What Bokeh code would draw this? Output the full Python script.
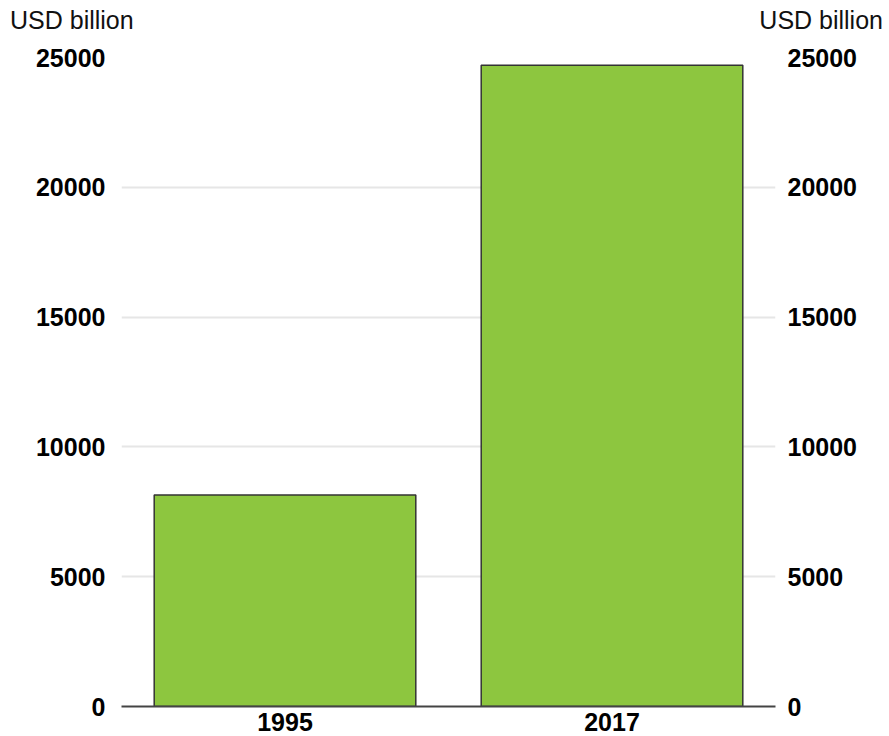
from bokeh.plotting import figure
from bokeh.models import ColumnDataSource, LinearAxis, FixedTicker, Range1d, Div, Spacer
from bokeh.layouts import column, row
from bokeh.embed import file_html
from bokeh.resources import INLINE

years = ["1995", "2017"]
values = [8150, 24700]
y_ticks = [0, 5000, 10000, 15000, 20000, 25000]
unit_label = "USD billion"

FONT = "Liberation Sans"
HEADER_H = 40

source = ColumnDataSource(data=dict(year=years, value=values))

p = figure(x_range=years, y_range=Range1d(0, 25000), width=889, height=736 - HEADER_H,
           output_backend="svg", toolbar_location=None,
           min_border_left=121, min_border_right=114, min_border_top=57 - HEADER_H,
           min_border_bottom=30)
p.outline_line_color = None
p.x_range.range_padding = 0

p.vbar(x="year", top="value", width=0.8, source=source,
       fill_color="#8dc63f", line_color="#333333", line_width=1.5)

def style_y(ax, standoff):
    ax.ticker = FixedTicker(ticks=y_ticks)
    ax.axis_line_color = None
    ax.major_tick_line_color = None
    ax.minor_tick_line_color = None
    ax.major_tick_out = 0
    ax.major_tick_in = 0
    ax.major_label_text_font = FONT
    ax.major_label_text_font_style = "bold"
    ax.major_label_text_font_size = "25px"
    ax.major_label_text_color = "#000000"
    ax.major_label_standoff = standoff

style_y(p.yaxis[0], 16)
ra = LinearAxis()
style_y(ra, 12)
p.add_layout(ra, "right")

# x axis
p.xaxis.axis_line_color = "#444444"
p.xaxis.axis_line_width = 2
p.xaxis.major_tick_line_color = None
p.xaxis.minor_tick_line_color = None
p.xaxis.major_tick_out = 0
p.xaxis.major_tick_in = 0
p.xaxis.major_label_text_font = FONT
p.xaxis.major_label_text_font_style = "bold"
p.xaxis.major_label_text_font_size = "25px"
p.xaxis.major_label_text_color = "#000000"
p.xaxis.major_label_standoff = 6

p.xgrid.grid_line_color = None
p.ygrid.ticker = FixedTicker(ticks=y_ticks)
p.ygrid.grid_line_color = "#e6e6e6"
p.ygrid.grid_line_width = 2

hdr_style = {"font-family": FONT, "font-size": "25px", "color": "#111111",
             "line-height": f"{HEADER_H}px", "white-space": "nowrap"}
left_hdr = Div(text=unit_label, width=200, height=HEADER_H, margin=(0, 0, 0, 10),
               styles=dict(hdr_style, **{"text-align": "left"}))
right_hdr = Div(text=unit_label, width=200, height=HEADER_H, margin=(0, 0, 0, 0),
                styles=dict(hdr_style, **{"text-align": "right"}))
header = row(left_hdr, Spacer(width=473, height=HEADER_H), right_hdr)

layout = column(header, p)

open("out.html", "w").write(file_html(layout, INLINE))
